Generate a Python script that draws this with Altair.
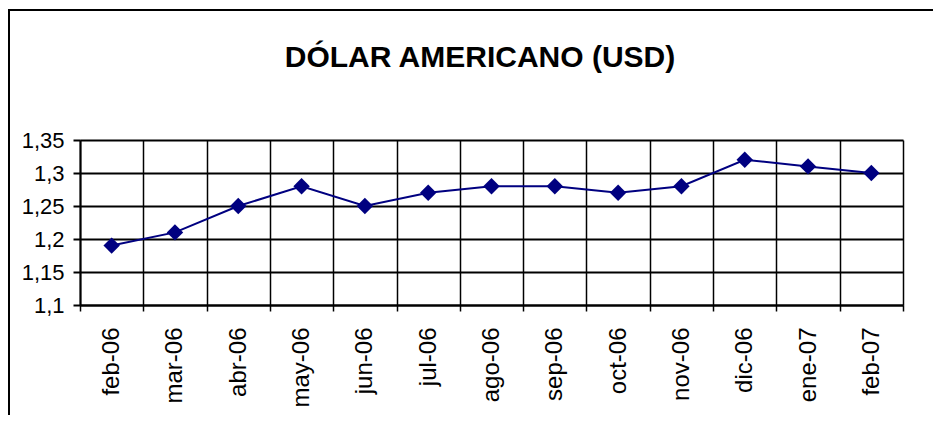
import altair as alt
import pandas as pd

months = ["feb-06", "mar-06", "abr-06", "may-06", "jun-06", "jul-06", "ago-06",
          "sep-06", "oct-06", "nov-06", "dic-06", "ene-07", "feb-07"]
usd = [1.19, 1.21, 1.25, 1.28, 1.25, 1.27, 1.28, 1.28, 1.27, 1.28, 1.32, 1.31, 1.30]
y_ticks = [1.1, 1.15, 1.2, 1.25, 1.3, 1.35]
title_text = "DÓLAR AMERICANO (USD)"

df = pd.DataFrame({"mes": months, "valor": usd})

FONT = "Liberation Sans"
W, H = 823, 165

x_enc = alt.X("mes:N", sort=months,
              scale=alt.Scale(paddingInner=0, paddingOuter=0),
              axis=alt.Axis(title=None, tickBand="extent", grid=True,
                            gridColor="black", gridWidth=1.5,
                            domainColor="black", domainWidth=2,
                            tickColor="black", tickWidth=1.5, tickSize=6,
                            labelAngle=270, labelAlign="right", labelBaseline="middle",
                            labelPadding=16, labelFontSize=24, labelFont=FONT,
                            labelColor="black"))
y_enc = alt.Y("valor:Q",
              scale=alt.Scale(domain=[1.1, 1.35], nice=False, zero=False),
              axis=alt.Axis(title=None, values=y_ticks, grid=True,
                            gridColor="black", gridWidth=2,
                            domainColor="black", domainWidth=2,
                            tickColor="black", tickWidth=2, tickSize=7,
                            labelPadding=9, labelFontSize=22, labelFont=FONT,
                            labelColor="black",
                            labelExpr="replace(format(datum.value, '.2~f'), '.', ',')"))

one = pd.DataFrame({"t": [title_text]})

# outer chart frame (left and top edges; the rest lies outside the window)
frame_left = alt.Chart(one).mark_rule(color="black", strokeWidth=2).encode(
    x=alt.value(-71), y=alt.value(-131), y2=alt.value(H + 300))
frame_top = alt.Chart(one).mark_rule(color="black", strokeWidth=2).encode(
    y=alt.value(-130), x=alt.value(-72), x2=alt.value(W + 200))

title = alt.Chart(one).mark_text(
    font=FONT, fontSize=30, fontWeight="bold", color="black",
    align="center", baseline="alphabetic"
).encode(text="t:N", x=alt.value(400), y=alt.value(-73))

line = alt.Chart(df).mark_line(color="#000080", strokeWidth=2).encode(x=x_enc, y=y_enc)
points = alt.Chart(df).mark_point(shape="diamond", filled=True, color="#000080",
                                  size=270, opacity=1).encode(x=x_enc, y=y_enc)

chart = alt.layer(frame_left, frame_top, title, line, points).properties(
    width=W, height=H,
    autosize=alt.AutoSizeParams(type="none"),
    padding={"left": 72, "top": 132, "right": 30, "bottom": 110},
    background="white",
).configure_view(stroke="transparent")

chart.save("out.html", embed_options={"renderer": "svg", "actions": False})
